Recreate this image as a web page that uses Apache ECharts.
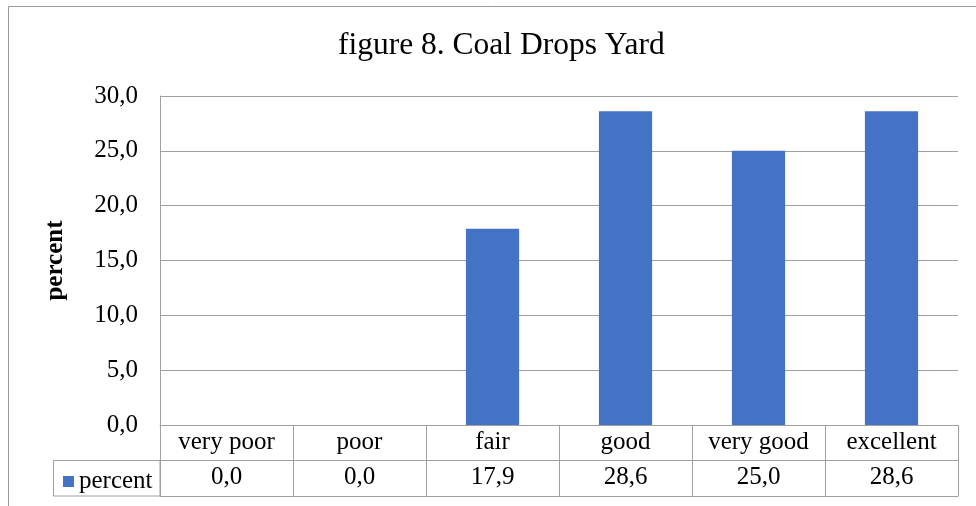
<!DOCTYPE html>
<html><head><meta charset="utf-8">
<script src="https://cdn.jsdelivr.net/npm/echarts@6/dist/echarts.min.js"></script>
<style>html,body{margin:0;padding:0;background:#fff}#c{width:976px;height:506px}</style>
</head><body><div id="c"></div>
<script>
var titleText = 'figure 8. Coal Drops Yard';
var categories = ['very poor','poor','fair','good','very good','excellent'];
var seriesName = 'percent';
var values = [0.0, 0.0, 17.9, 28.6, 25.0, 28.6];
var yTicks = {min: 0, max: 30, interval: 5};

var FONT = 'Liberation Serif';
var GRID = '#a0a0a0';
var FS = 25;
function fmt(v){ return Number(v).toFixed(1).replace('.', ','); }

var chart = echarts.init(document.getElementById('c'));
chart.setOption({
  backgroundColor: '#fff',
  animation: false,
  title: {text: titleText, left: 333, top: 25,
    textStyle: {fontFamily: FONT, fontSize: 31.5, fontWeight: 'normal', color: '#000'}},
  legend: {data: [seriesName], left: 58, top: 464, icon: 'rect', itemWidth: 11, itemHeight: 11,
    itemGap: 0, selectedMode: false,
    textStyle: {fontFamily: FONT, fontSize: FS, color: '#000', padding: [0,0,0,0]}},
  grid: {left: 160, right: 18, top: 96, bottom: 81, containLabel: false},
  xAxis: [
    {type: 'category', data: categories, position: 'bottom',
     axisLine: {show: true, lineStyle: {color: GRID, width: 1}},
     axisTick: {show: true, length: 71, interval: 0, lineStyle: {color: GRID}},
     axisLabel: {interval: 0, margin: 5, fontFamily: FONT, fontSize: FS, color: '#000'}},
    {type: 'category', data: categories, position: 'bottom', offset: 35,
     axisLine: {show: true, lineStyle: {color: GRID, width: 1}},
     axisTick: {show: false},
     axisLabel: {interval: 0, margin: 5, fontFamily: FONT, fontSize: FS, color: '#000',
       formatter: function(v, i){ return fmt(values[i]); }}},
    {type: 'category', data: categories, position: 'bottom', offset: 71,
     axisLine: {show: true, lineStyle: {color: GRID, width: 1}},
     axisTick: {show: false}, axisLabel: {show: false}}
  ],
  yAxis: {type: 'value', min: yTicks.min, max: yTicks.max, interval: yTicks.interval,
    name: 'percent', nameLocation: 'middle', nameRotate: 90, nameGap: 92,
    nameTextStyle: {fontFamily: FONT, fontSize: FS, fontWeight: 'bold', color: '#000'},
    axisLine: {show: true, lineStyle: {color: GRID, width: 1}},
    axisTick: {show: false},
    axisLabel: {margin: 22, fontFamily: FONT, fontSize: FS, color: '#000', formatter: fmt},
    splitLine: {show: true, lineStyle: {color: GRID, width: 1}}},
  series: [{type: 'bar', name: seriesName, data: values, xAxisIndex: 0,
    barWidth: '40%', itemStyle: {color: '#4472C4'}}],
  graphic: [
    {type: 'rect', shape: {x: 8.5, y: 6.5, width: 1000, height: 600}, silent: true, z: -10,
     style: {fill: null, stroke: '#999', lineWidth: 1}},
    {type: 'rect', shape: {x: 53.5, y: 460.5, width: 106.5, height: 35.5}, silent: true,
     style: {fill: null, stroke: GRID, lineWidth: 1}}
  ]
});
</script></body></html>
